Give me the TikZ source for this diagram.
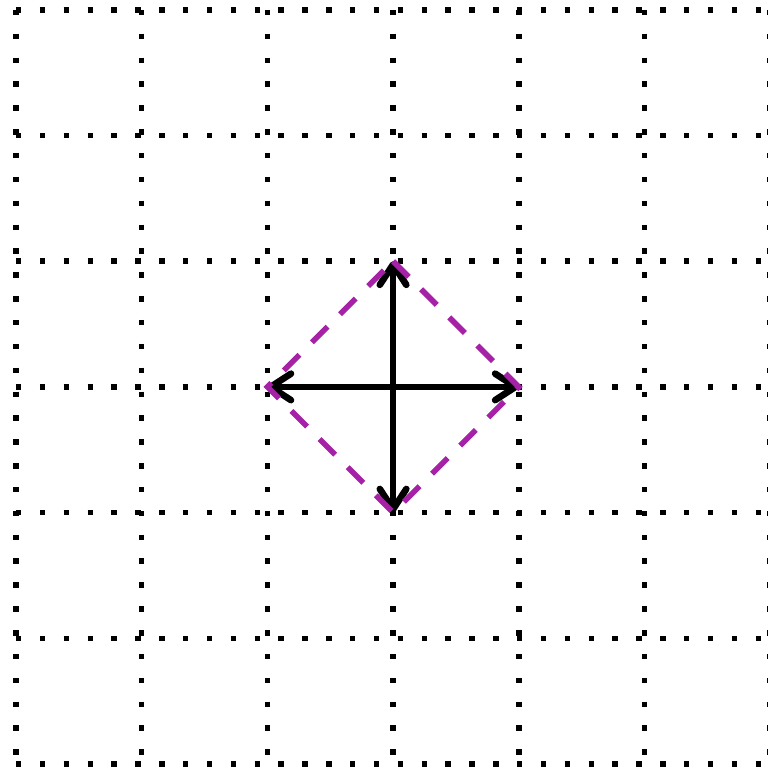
\documentclass[tikz,border=0pt]{standalone}
\usetikzlibrary{arrows.meta}
\definecolor{diapurple}{RGB}{165,33,165}
\tikzset{
  gridline/.style={line width=1.25pt, dash pattern=on 1.25pt off 4.15pt, black},
  vecarrow/.style={line width=1.5pt, -{Straight Barb[length=4.6pt,width=6pt,round]}},
  diamondline/.style={line width=1.25pt, diapurple, dash pattern=on 5pt off 4pt}
}
\begin{document}
\begin{tikzpicture}
\useasboundingbox (-0.127,-0.0716) rectangle (5.975,6.078);
\foreach \i in {0,...,6} {
  \draw[gridline] (0,\i) -- (6.1,\i);
  \draw[gridline] (\i,6) -- (\i,-0.1);
}
\coordinate (c) at (3,3);
\coordinate (l) at (2,3);
\coordinate (r) at (4,3);
\coordinate (t) at (3,4);
\coordinate (b) at (3,2);
\draw[vecarrow] (c) -- (l);
\draw[vecarrow] (c) -- (r);
\draw[vecarrow] (c) -- (t);
\draw[vecarrow] (c) -- (b);
\draw[diamondline] (t) -- (r) -- (b) -- (l) -- cycle;
\end{tikzpicture}
\end{document}
